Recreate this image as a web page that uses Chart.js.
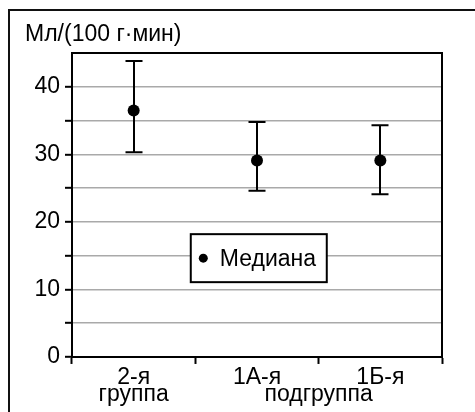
<!DOCTYPE html>
<html lang="ru">
<head>
<meta charset="utf-8">
<title>Мл/(100 г·мин)</title>
<script src="https://cdn.jsdelivr.net/npm/chart.js@4/dist/chart.umd.min.js"></script>
<style>
  html, body { margin: 0; padding: 0; background: #fff; }
  #wrap { position: relative; width: 475px; height: 412px; overflow: hidden; }
  #c { position: absolute; left: 0; top: 0; }
  /* outer frame: only its left and top edges fall inside the page */
  #frame { position: absolute; left: 8px; top: 9px; width: 600px; height: 600px;
           border-left: 2px solid #111; border-top: 2px solid #111; pointer-events: none; }
</style>
</head>
<body>
<div id="wrap">
  <canvas id="c" width="475" height="412"></canvas>
  <div id="frame"></div>
</div>
<script>
// Groups along the x axis (first line / second line of each label)
const categories = [['2-я', 'группа'], ['1А-я', ''], ['1Б-я', '']];
const sharedLabel = 'подгруппа';   // common caption under the two subgroups
const yTitle = 'Мл/(100 г·мин)';
const seriesName = 'Медиана';

// Median and the ends of each whisker, Мл/(100 г·мин)
const medians = [36.5, 29.1, 29.1];
const upper   = [43.8, 34.8, 34.3];
const lower   = [30.3, 24.6, 24.1];

// Y axis range and step
const yMin = 0, yMax = 45, yStep = 5, yLabelStep = 10;

const FONT = "'Liberation Sans', Arial, sans-serif";
const FS = 23;
const X_LINE = 0.74;   // tight line spacing of the x labels

// Whiskers with caps, drawn through the chart's scales
const whiskers = {
  id: 'whiskers',
  beforeDatasetsDraw(chart) {
    const { ctx, scales: { x, y } } = chart;
    ctx.save();
    ctx.strokeStyle = '#000';
    ctx.lineWidth = 2;
    const cap = 8.5;
    for (let i = 0; i < medians.length; i++) {
      const px = Math.round(x.getPixelForValue(i));
      const top = y.getPixelForValue(upper[i]);
      const bot = y.getPixelForValue(lower[i]);
      ctx.beginPath();
      ctx.moveTo(px, top); ctx.lineTo(px, bot);
      ctx.moveTo(px - cap, top); ctx.lineTo(px + cap, top);
      ctx.moveTo(px - cap, bot); ctx.lineTo(px + cap, bot);
      ctx.stroke();
    }
    ctx.restore();
  }
};

// Top and right edges of the plot box, caption under the subgroups, legend box
const decorations = {
  id: 'decorations',
  beforeDatasetsDraw(chart) {
    const { ctx, chartArea: a } = chart;
    ctx.save();
    ctx.strokeStyle = '#000';
    ctx.lineWidth = 2;
    ctx.beginPath();
    ctx.moveTo(a.left, a.top); ctx.lineTo(a.right, a.top); ctx.lineTo(a.right, a.bottom);
    ctx.stroke();
    ctx.restore();
  },
  afterDraw(chart) {
    const { ctx, chartArea: a, scales: { x } } = chart;
    ctx.save();
    // caption shared by the two subgroups, on the second label line
    const lh = FS * X_LINE;
    const xo = x.options;
    const ly = x.top + xo.grid.tickLength + xo.ticks.padding + lh / 2 + lh;
    const cx = (x.getPixelForValue(1) + x.getPixelForValue(2)) / 2;
    ctx.font = FS + 'px ' + FONT;
    ctx.fillStyle = '#000';
    ctx.textAlign = 'center';
    ctx.textBaseline = 'middle';
    ctx.fillText(sharedLabel, cx, ly);

    // legend box inside the plot
    const w = a.right - a.left, h = a.bottom - a.top;
    const bx = a.left + w * 0.321, by = a.top + h * 0.596;
    const bw = 136, bh = 48;
    ctx.fillStyle = '#fff';
    ctx.fillRect(bx, by, bw, bh);
    ctx.strokeStyle = '#000';
    ctx.lineWidth = 2;
    ctx.strokeRect(bx, by, bw, bh);
    ctx.fillStyle = '#000';
    ctx.beginPath();
    ctx.arc(bx + 12.5, by + bh / 2, 4.5, 0, Math.PI * 2);
    ctx.fill();
    ctx.textAlign = 'left';
    ctx.fillText(seriesName, bx + 29, by + bh / 2 + 1);
    ctx.restore();
  }
};

new Chart(document.getElementById('c'), {
  type: 'line',
  data: {
    labels: categories,
    datasets: [{
      label: seriesName,
      data: medians,
      showLine: false,
      pointStyle: 'circle',
      pointRadius: 6,
      pointHoverRadius: 6,
      pointBackgroundColor: '#000',
      pointBorderColor: '#000',
      pointBorderWidth: 0
    }]
  },
  options: {
    responsive: false,
    animation: false,
    devicePixelRatio: 1,
    layout: { padding: { left: 25, right: 33, top: 0, bottom: 4 } },
    plugins: {
      legend: { display: false },
      tooltip: { enabled: false },
      title: {
        display: true,
        text: yTitle,
        align: 'start',
        color: '#000',
        font: { family: FONT, size: FS, weight: 'normal', lineHeight: 1.2 },
        padding: { top: 20.7, bottom: 4.7 }
      }
    },
    scales: {
      x: {
        type: 'category',
        offset: true,
        grid: {
          display: true,
          offset: true,
          drawOnChartArea: false,
          tickLength: 7,
          tickWidth: 2,
          tickColor: '#000',
          color: '#000'
        },
        border: { display: true, color: '#000', width: 2 },
        ticks: {
          color: '#000',
          padding: 5,
          maxRotation: 0,
          autoSkip: false,
          font: { family: FONT, size: FS, lineHeight: X_LINE }
        }
      },
      y: {
        min: yMin,
        max: yMax,
        afterFit(scale) { scale.width = 47; },
        grid: {
          color: (c) => (c.tick.value === yMin || c.tick.value === yMax) ? 'rgba(0,0,0,0)' : '#a9a9a9',
          lineWidth: 1.6,
          tickLength: 7,
          tickWidth: 2,
          tickColor: (c) => c.tick.value === yMax ? 'rgba(0,0,0,0)' : '#000'
        },
        border: { display: true, color: '#000', width: 2 },
        ticks: {
          stepSize: yStep,
          color: '#000',
          padding: 5,
          font: { family: FONT, size: FS, lineHeight: 1.2 },
          callback: (v) => (v % yLabelStep === 0 ? String(v) : '')
        }
      }
    }
  },
  plugins: [whiskers, decorations]
});
</script>
</body>
</html>
